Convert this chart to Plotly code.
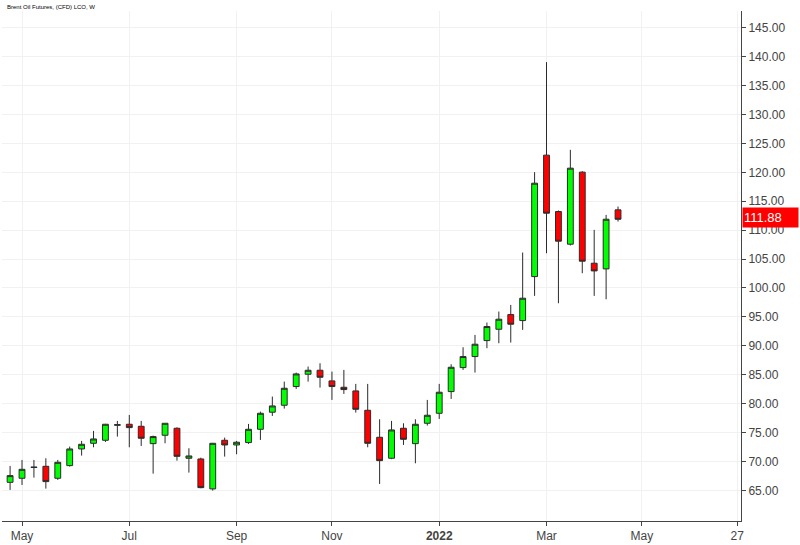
import plotly.graph_objects as go
import pandas as pd

week_start = "2021-04-26"
dates = pd.date_range(week_start, periods=52, freq="7D")

opens = [66.39, 67.09, 69.05, 69.16, 67.09, 69.28, 72.16, 73.14, 73.66, 76.25,
         76.43, 76.08, 73.08, 74.53, 75.74, 70.55, 70.43, 65.25, 73.66, 72.85,
         73.26, 75.56, 78.51, 79.72, 82.95, 85.08, 85.77, 83.93, 82.83, 82.20,
         78.85, 74.18, 70.55, 75.74, 73.08, 76.60, 78.33, 82.08, 86.23, 88.14,
         90.90, 92.86, 95.40, 94.36, 101.97, 122.97, 113.22, 107.57, 120.03, 104.28,
         103.30, 113.51]
highs = [69.22, 70.26, 70.26, 70.55, 70.26, 72.57, 73.55, 75.28, 76.50, 77.01,
         78.04, 77.01, 74.47, 76.60, 75.90, 72.28, 70.66, 73.20, 74.12, 73.55,
         76.49, 78.62, 81.22, 83.81, 85.37, 86.41, 86.98, 85.54, 85.83, 83.41,
         83.41, 77.29, 77.01, 76.60, 77.29, 80.64, 83.41, 86.81, 89.75, 91.88,
         94.02, 95.92, 97.07, 106.13, 120.03, 139.06, 113.40, 123.89, 120.20, 110.05,
         112.64, 114.08]
lows = [65.07, 65.93, 67.20, 65.30, 66.80, 69.11, 71.01, 72.45, 73.37, 74.30,
        72.45, 72.68, 67.89, 73.14, 70.14, 68.07, 65.36, 64.95, 70.84, 71.24,
        73.03, 73.72, 77.87, 79.14, 82.54, 83.81, 82.77, 80.64, 81.68, 78.45,
        72.45, 66.11, 70.40, 72.85, 69.68, 76.20, 77.35, 80.81, 85.83, 85.37,
        89.58, 90.44, 90.56, 92.75, 98.63, 106.01, 97.36, 107.34, 102.55, 98.63,
        98.05, 111.49]
closes = [67.55, 68.64, 68.95, 66.51, 69.85, 72.16, 72.97, 73.89, 76.43, 76.35,
          75.85, 74.01, 74.30, 76.60, 70.89, 70.95, 65.47, 73.14, 72.85, 73.32,
          75.56, 78.33, 79.60, 82.66, 85.14, 85.77, 84.56, 82.95, 82.43, 79.02,
          73.14, 70.14, 75.45, 73.83, 76.43, 77.99, 81.97, 86.29, 88.14, 90.27,
          93.33, 94.60, 93.73, 98.23, 118.12, 112.93, 108.09, 120.72, 104.63, 102.95,
          111.89, 111.88]

tick_dates = ["2021-05-03", "2021-07-05", "2021-09-06", "2021-11-01",
              "2022-01-03", "2022-03-07", "2022-05-02", "2022-06-27"]
tick_labels = ["May", "Jul", "Sep", "Nov", "<b>2022</b>", "Mar", "May", "27"]
price_ticks = [65, 70, 75, 80, 85, 90, 95, 100, 105, 110, 115, 120, 125, 130, 135, 140, 145]
last_price = 111.88
title_text = "Brent Oil Futures, (CFD) LCO, W"

fig = go.Figure()
fig.add_trace(go.Candlestick(
    x=dates, open=opens, high=highs, low=lows, close=closes,
    increasing=dict(fillcolor="#00ff00", line=dict(color="#2b2b2b", width=1)),
    decreasing=dict(fillcolor="#ff0000", line=dict(color="#2b2b2b", width=1)),
    whiskerwidth=0, showlegend=False, hoverinfo="skip",
))

fig.update_layout(
    width=800, height=545,
    margin=dict(l=2, r=59, t=11, b=24),
    paper_bgcolor="white", plot_bgcolor="white",
    font=dict(family="Liberation Sans, Arial, sans-serif", size=12, color="#333333"),
    xaxis=dict(
        type="date",
        range=["2021-04-21 06:00", "2022-06-29 05:00"],
        rangeslider=dict(visible=False),
        tickvals=tick_dates, ticktext=tick_labels,
        showgrid=True, gridcolor="#f1f1f1", gridwidth=1,
        showline=True, linecolor="#444444", linewidth=1,
        ticks="outside", ticklen=4, tickcolor="#444444",
        tickfont=dict(size=12, color="#444444"),
        zeroline=False, fixedrange=True,
    ),
    yaxis=dict(
        side="right",
        range=[59.7, 147.9],
        tickvals=price_ticks,
        tickformat=".2f",
        showgrid=True, gridcolor="#f1f1f1", gridwidth=1,
        showline=True, linecolor="#444444", linewidth=1,
        ticks="outside", ticklen=4, tickcolor="#444444",
        tickfont=dict(size=12, color="#444444"),
        zeroline=False, fixedrange=True,
    ),
    annotations=[
        dict(text=title_text, xref="paper", yref="paper", x=0, y=1,
             xanchor="left", yanchor="bottom", xshift=3, yshift=-1,
             showarrow=False,
             font=dict(size=6, color="#000000", family="Liberation Sans, Arial, sans-serif")),
        dict(text=f"{last_price:.2f}", xref="paper", yref="y", x=1, y=last_price,
             xanchor="left", yanchor="middle", xshift=1, yshift=2, showarrow=False,
             bgcolor="#ff0000", width=53, height=17, align="left", borderpad=1,
             font=dict(size=13, color="#ffffff", family="Liberation Sans, Arial, sans-serif")),
    ],
)

fig.write_html("out.html")
